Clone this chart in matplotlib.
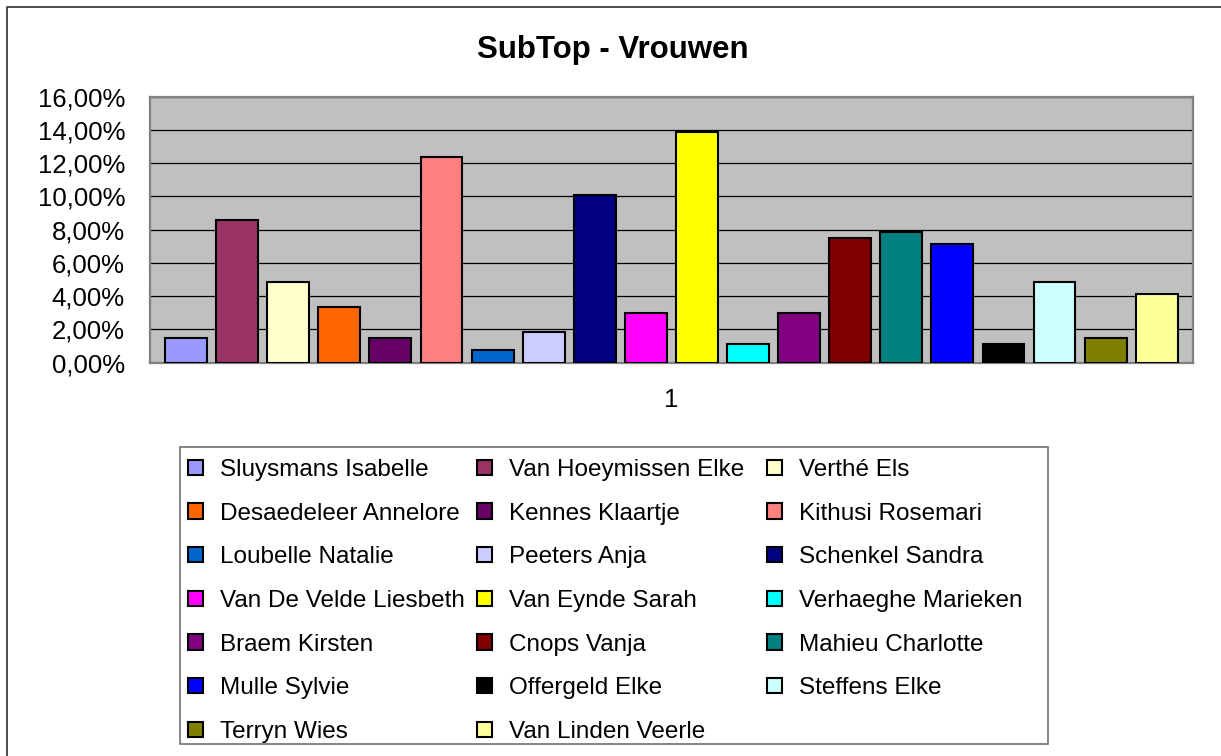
import matplotlib
matplotlib.use("Agg")
import matplotlib.pyplot as plt
from matplotlib.patches import Rectangle
from matplotlib.lines import Line2D
from matplotlib.ticker import FuncFormatter, MultipleLocator

plt.rcParams['font.family'] = ['Liberation Sans', 'DejaVu Sans']

# gegevens (percentages)
names = ["Sluysmans Isabelle", "Van Hoeymissen Elke", "Verthé Els",
         "Desaedeleer Annelore", "Kennes Klaartje", "Kithusi Rosemari",
         "Loubelle Natalie", "Peeters Anja", "Schenkel Sandra",
         "Van De Velde Liesbeth", "Van Eynde Sarah", "Verhaeghe Marieken",
         "Braem Kirsten", "Cnops Vanja", "Mahieu Charlotte",
         "Mulle Sylvie", "Offergeld Elke", "Steffens Elke",
         "Terryn Wies", "Van Linden Veerle"]
values = [1.50, 8.61, 4.87, 3.37, 1.50, 12.36,
          0.75, 1.87, 10.11, 3.00, 13.86, 1.12,
          3.00, 7.49, 7.87, 7.12, 1.12, 4.87,
          1.50, 4.12]
colors = ["#9999FF", "#993366", "#FFFFCC", "#FF6600", "#660066", "#FF8080",
          "#0066CC", "#CCCCFF", "#000080", "#FF00FF", "#FFFF00", "#00FFFF",
          "#800080", "#800000", "#008080", "#0000FF", "#000000", "#CCFFFF",
          "#808000", "#FFFF99"]
category = "1"
title = "SubTop - Vrouwen"

W, H = 1221, 756
fig = plt.figure(figsize=(W / 100, H / 100), dpi=100)

# kader rond de figuur (alleen boven en links zichtbaar)
fig.add_artist(Line2D([7 / W, 7 / W, 1], [0, 1 - 7 / H, 1 - 7 / H],
                      transform=fig.transFigure, color="#404040", lw=1.3))

ax = fig.add_axes([150 / W, 1 - 362.7 / H, (1193 - 150) / W, (362.7 - 96.7) / H])
ax.set_facecolor("#C0C0C0")

bars = []
for i, (n, v, c) in enumerate(zip(names, values, colors)):
    b = ax.bar(i, v, width=0.82, color=c, edgecolor="black", linewidth=1.5,
               label=n, zorder=3)
    bars.append(b[0])

ax.set_xlim(-0.705, 19.71)
ax.set_ylim(0, 16)
ax.yaxis.set_major_locator(MultipleLocator(2))
ax.yaxis.set_major_formatter(FuncFormatter(lambda v, p: ("%.2f%%" % v).replace(".", ",")))
ax.set_xticks([(len(names) - 1) / 2])
ax.set_xticklabels([category])
ax.tick_params(length=0, pad=18, labelsize=18.5)
ax.grid(axis="y", color="black", linewidth=0.9, zorder=1)
for s in ax.spines.values():
    s.set_color("#808080")
    s.set_linewidth(1.6)

fig.text(613 / W, 1 - 57.7 / H, title, ha="center", va="baseline",
         fontsize=22.5, fontweight="bold")

# legenda: drie kolommen, rij per rij gevuld
fig.add_artist(Rectangle((180 / W, 1 - 744 / H), (1048 - 180) / W, (744 - 447) / H,
                         transform=fig.transFigure, fill=False,
                         edgecolor="#707070", linewidth=1.2))
col_x = [188, 477, 767]
for c in range(3):
    leg = fig.legend(bars[c::3], names[c::3], loc="upper left",
                     bbox_to_anchor=(col_x[c] / W, 1 - 459 / H),
                     frameon=False, fontsize=17.5, borderpad=0, borderaxespad=0,
                     handlelength=0.6, handleheight=0.6, handletextpad=0.7,
                     labelspacing=0.89)

fig.savefig("out.png", dpi=100)
